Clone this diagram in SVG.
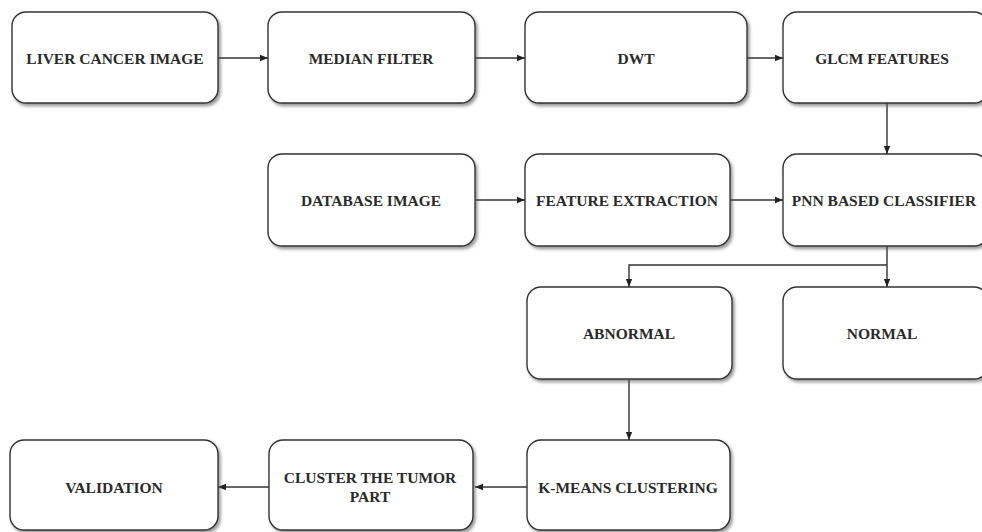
<svg xmlns="http://www.w3.org/2000/svg" width="982" height="532" viewBox="0 0 982 532">
<defs>
<filter id="sh" x="-10%" y="-10%" width="130%" height="130%">
<feDropShadow dx="2" dy="2.5" stdDeviation="1.5" flood-color="#555" flood-opacity="0.6"/>
</filter>
<marker id="ah" viewBox="0 0 10 10" refX="10" refY="5" markerWidth="8" markerHeight="8" markerUnits="userSpaceOnUse" orient="auto">
<path d="M0,1 L10,5 L0,9 Z" fill="#222"/>
</marker>
</defs>
<style>
.box{fill:#fff;stroke:#333;stroke-width:1.4;filter:url(#sh)}
.lbl{font-family:"Liberation Serif","Times New Roman",serif;font-weight:bold;font-size:15.5px;fill:#2a2a2a;text-anchor:middle;dominant-baseline:central}
.con{fill:none;stroke:#333;stroke-width:1.4;marker-end:url(#ah)}
</style>
<rect width="982" height="532" fill="#fff"/>
<g id="connectors">
<path class="con" d="M218,58 H268"/>
<path class="con" d="M475,58 H525"/>
<path class="con" d="M747,58 H783"/>
<path class="con" d="M887,103 V154"/>
<path class="con" d="M475,200 H525"/>
<path class="con" d="M730,200 H783"/>
<path class="con" d="M887,246 V287"/>
<path class="con" d="M887,265 H629 V287"/>
<path class="con" d="M629,380 V440"/>
<path class="con" d="M527,487 H475"/>
<path class="con" d="M269,487 H218"/>
</g>
<g id="n1"><rect class="box" x="12" y="12" width="206" height="91" rx="14"/><text class="lbl" x="115" y="58">LIVER CANCER IMAGE</text></g>
<g id="n2"><rect class="box" x="268" y="12" width="207" height="91" rx="14"/><text class="lbl" x="371" y="58">MEDIAN FILTER</text></g>
<g id="n3"><rect class="box" x="525" y="12" width="222" height="91" rx="14"/><text class="lbl" x="636" y="58">DWT</text></g>
<g id="n4"><rect class="box" x="783" y="12" width="205" height="91" rx="14"/><text class="lbl" x="882" y="58">GLCM FEATURES</text></g>
<g id="n5"><rect class="box" x="268" y="154" width="207" height="92" rx="14"/><text class="lbl" x="371" y="200">DATABASE IMAGE</text></g>
<g id="n6"><rect class="box" x="525" y="154" width="205" height="92" rx="14"/><text class="lbl" x="627" y="200">FEATURE EXTRACTION</text></g>
<g id="n7"><rect class="box" x="783" y="154" width="205" height="92" rx="14"/><text class="lbl" x="884" y="200">PNN BASED CLASSIFIER</text></g>
<g id="n8"><rect class="box" x="527" y="287" width="205" height="92" rx="14"/><text class="lbl" x="629" y="333">ABNORMAL</text></g>
<g id="n9"><rect class="box" x="783" y="287" width="205" height="92" rx="14"/><text class="lbl" x="882" y="333">NORMAL</text></g>
<g id="n10"><rect class="box" x="527" y="440" width="203" height="90" rx="14"/><text class="lbl" x="628" y="487">K-MEANS CLUSTERING</text></g>
<g id="n11"><rect class="box" x="269" y="440" width="204" height="90" rx="14"/><text class="lbl" x="370" y="477">CLUSTER THE TUMOR</text><text class="lbl" x="370" y="496">PART</text></g>
<g id="n12"><rect class="box" x="10" y="440" width="208" height="90" rx="14"/><text class="lbl" x="114" y="487">VALIDATION</text></g>
</svg>
